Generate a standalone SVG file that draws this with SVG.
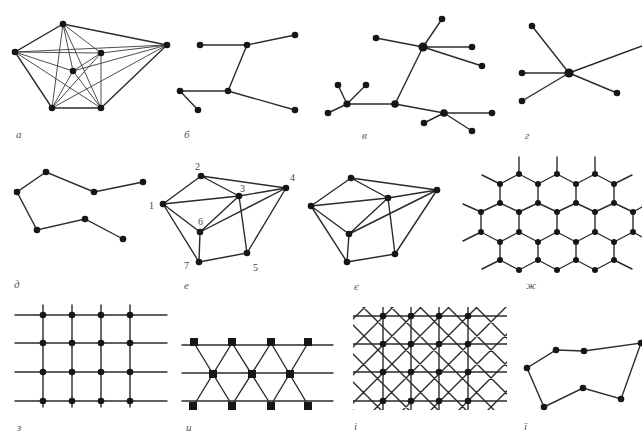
<svg xmlns="http://www.w3.org/2000/svg" width="642" height="434" viewBox="0 0 642 434">
<style>
.e{stroke:#2b2b2b;stroke-width:1.4;fill:none;stroke-linecap:round}
.t{stroke:#3a3a3a;stroke-width:0.9;fill:none}
.n{fill:#161616}
.lbl{font-family:"Liberation Serif","DejaVu Serif",serif;font-style:italic;font-size:11px;fill:#555}
.num{font-family:"Liberation Serif","DejaVu Serif",serif;font-size:10px;fill:#444}
</style>
<defs>
<clipPath id="clipI"><rect x="353" y="307" width="154" height="103"/></clipPath>
</defs>
<rect width="642" height="434" fill="#fff"/>

<!-- а: complete graph -->
<g id="fig-a">
<g id="fig-a-edges">
<path class="e" d="M63 24L15 52L52 108L101 108L167 45Z"/>
<path class="t" d="M63 24L101 53M63 24L73 71M63 24L52 108M63 24L101 108M15 52L167 45M15 52L101 53M15 52L73 71M15 52L101 108M167 45L101 53M167 45L73 71M167 45L52 108M101 53L73 71M101 53L52 108M101 53L101 108M73 71L52 108M73 71L101 108"/>
</g>
<g id="a1"><circle class="n" cx="63" cy="24" r="3.3"/></g>
<g id="a2"><circle class="n" cx="15" cy="52" r="3.3"/></g>
<g id="a3"><circle class="n" cx="167" cy="45" r="3.3"/></g>
<g id="a4"><circle class="n" cx="101" cy="53" r="3.3"/></g>
<g id="a5"><circle class="n" cx="73" cy="71" r="3.3"/></g>
<g id="a6"><circle class="n" cx="52" cy="108" r="3.3"/></g>
<g id="a7"><circle class="n" cx="101" cy="108" r="3.3"/></g>
<text class="lbl" x="16" y="138">а</text>
</g>

<!-- б: tree -->
<g id="fig-b">
<g id="fig-b-edges"><path class="e" d="M200 45L247 45L295 35M247 45L228 91L180 91L198 110M228 91L295 110"/></g>
<g id="b1"><circle class="n" cx="200" cy="45" r="3.3"/></g>
<g id="b2"><circle class="n" cx="247" cy="45" r="3.3"/></g>
<g id="b3"><circle class="n" cx="295" cy="35" r="3.3"/></g>
<g id="b4"><circle class="n" cx="228" cy="91" r="3.3"/></g>
<g id="b5"><circle class="n" cx="180" cy="91" r="3.3"/></g>
<g id="b6"><circle class="n" cx="198" cy="110" r="3.3"/></g>
<g id="b7"><circle class="n" cx="295" cy="110" r="3.3"/></g>
<text class="lbl" x="184" y="138">б</text>
</g>

<!-- в: tree -->
<g id="fig-v">
<g id="fig-v-edges"><path class="e" d="M423 47L442 19M423 47L376 38M423 47L472 47M423 47L482 66M423 47L395 104L347 104L338 85M347 104L366 85M347 104L328 113M395 104L444 113L492 113M444 113L424 123M444 113L472 131"/></g>
<g id="v1"><circle class="n" cx="423" cy="47" r="4.6"/></g>
<g id="v2"><circle class="n" cx="442" cy="19" r="3.3"/></g>
<g id="v3"><circle class="n" cx="376" cy="38" r="3.3"/></g>
<g id="v4"><circle class="n" cx="472" cy="47" r="3.3"/></g>
<g id="v5"><circle class="n" cx="482" cy="66" r="3.3"/></g>
<g id="v6"><circle class="n" cx="395" cy="104" r="3.8"/></g>
<g id="v7"><circle class="n" cx="347" cy="104" r="3.6"/></g>
<g id="v8"><circle class="n" cx="338" cy="85" r="3.3"/></g>
<g id="v9"><circle class="n" cx="366" cy="85" r="3.3"/></g>
<g id="v10"><circle class="n" cx="328" cy="113" r="3.3"/></g>
<g id="v11"><circle class="n" cx="444" cy="113" r="3.8"/></g>
<g id="v12"><circle class="n" cx="492" cy="113" r="3.3"/></g>
<g id="v13"><circle class="n" cx="424" cy="123" r="3.3"/></g>
<g id="v14"><circle class="n" cx="472" cy="131" r="3.3"/></g>
<text class="lbl" x="362" y="139">в</text>
</g>

<!-- г: star -->
<g id="fig-g">
<g id="fig-g-edges"><path class="e" d="M569 73L532 26M569 73L522 73M569 73L522 101M569 73L617 93M569 73L642 46"/></g>
<g id="g1"><circle class="n" cx="569" cy="73" r="4.6"/></g>
<g id="g2"><circle class="n" cx="532" cy="26" r="3.3"/></g>
<g id="g3"><circle class="n" cx="522" cy="73" r="3.3"/></g>
<g id="g4"><circle class="n" cx="522" cy="101" r="3.3"/></g>
<g id="g5"><circle class="n" cx="617" cy="93" r="3.3"/></g>
<text class="lbl" x="525" y="139">г</text>
</g>

<!-- д: path -->
<g id="fig-d">
<g id="fig-d-edges"><path class="e" d="M143 182L94 192L46 172L17 192L37 230L85 219L123 239"/></g>
<g id="d1"><circle class="n" cx="143" cy="182" r="3.3"/></g>
<g id="d2"><circle class="n" cx="94" cy="192" r="3.3"/></g>
<g id="d3"><circle class="n" cx="46" cy="172" r="3.3"/></g>
<g id="d4"><circle class="n" cx="17" cy="192" r="3.3"/></g>
<g id="d5"><circle class="n" cx="37" cy="230" r="3.3"/></g>
<g id="d6"><circle class="n" cx="85" cy="219" r="3.3"/></g>
<g id="d7"><circle class="n" cx="123" cy="239" r="3.3"/></g>
<text class="lbl" x="14" y="288">д</text>
</g>

<!-- е: numbered graph -->
<g id="fig-e">
<g id="fig-e-edges"><path class="e" d="M163 204L201 176M163 204L239 196M163 204L200 232M163 204L199 262M201 176L239 196M201 176L286 188M239 196L286 188M239 196L247 253M239 196L200 232M286 188L247 253M286 188L200 232M200 232L199 262M199 262L247 253"/></g>
<g id="e1"><circle class="n" cx="163" cy="204" r="3.3"/></g>
<g id="e2"><circle class="n" cx="201" cy="176" r="3.3"/></g>
<g id="e3"><circle class="n" cx="239" cy="196" r="3.3"/></g>
<g id="e4"><circle class="n" cx="286" cy="188" r="3.3"/></g>
<g id="e5"><circle class="n" cx="247" cy="253" r="3.3"/></g>
<g id="e6"><circle class="n" cx="200" cy="232" r="3.3"/></g>
<g id="e7"><circle class="n" cx="199" cy="262" r="3.3"/></g>
<text class="num" x="149" y="209">1</text>
<text class="num" x="195" y="170">2</text>
<text class="num" x="240" y="192">3</text>
<text class="num" x="290" y="181">4</text>
<text class="num" x="253" y="271">5</text>
<text class="num" x="198" y="225">6</text>
<text class="num" x="184" y="269">7</text>
<text class="lbl" x="184" y="289">е</text>
</g>

<!-- є: same graph -->
<g id="fig-ye">
<g id="fig-ye-edges"><path class="e" d="M311 206L351 178M311 206L388 198M311 206L349 234M311 206L347 262M351 178L388 198M351 178L437 190M388 198L437 190M388 198L395 254M388 198L349 234M437 190L395 254M437 190L349 234M349 234L347 262M347 262L395 254"/></g>
<g id="ye1"><circle class="n" cx="311" cy="206" r="3.3"/></g>
<g id="ye2"><circle class="n" cx="351" cy="178" r="3.3"/></g>
<g id="ye3"><circle class="n" cx="388" cy="198" r="3.3"/></g>
<g id="ye4"><circle class="n" cx="437" cy="190" r="3.3"/></g>
<g id="ye5"><circle class="n" cx="395" cy="254" r="3.3"/></g>
<g id="ye6"><circle class="n" cx="349" cy="234" r="3.3"/></g>
<g id="ye7"><circle class="n" cx="347" cy="262" r="3.3"/></g>
<text class="lbl" x="354" y="290">є</text>
</g>

<!-- ж: honeycomb -->
<g id="fig-zh">
<path class="e" d="M519 174L500 184M519 174L538 184M557 174L538 184M557 174L576 184M595 174L576 184M595 174L614 184M500 184V203M538 184V203M576 184V203M614 184V203M500 203L481 212M500 203L519 212M538 203L519 212M538 203L557 212M576 203L557 212M576 203L595 212M614 203L595 212M614 203L633 212M481 212V232M519 212V232M557 212V232M595 212V232M633 212V232M481 232L500 242M519 232L500 242M519 232L538 242M557 232L538 242M557 232L576 242M595 232L576 242M595 232L614 242M633 232L614 242M500 242V260M538 242V260M576 242V260M614 242V260M500 260L519 270M538 260L519 270M538 260L557 270M576 260L557 270M576 260L595 270M614 260L595 270M519 174V157M557 174V157M595 174V157M500 184L482 175M614 184L632 175M481 212L463 204M481 232L463 241M500 260L482 269M614 260L632 269M633 212L642 207M633 232L642 237"/>
<g class="n">
<circle cx="519" cy="174" r="3"/><circle cx="557" cy="174" r="3"/><circle cx="595" cy="174" r="3"/>
<circle cx="500" cy="184" r="3"/><circle cx="538" cy="184" r="3"/><circle cx="576" cy="184" r="3"/><circle cx="614" cy="184" r="3"/>
<circle cx="500" cy="203" r="3"/><circle cx="538" cy="203" r="3"/><circle cx="576" cy="203" r="3"/><circle cx="614" cy="203" r="3"/>
<circle cx="481" cy="212" r="3"/><circle cx="519" cy="212" r="3"/><circle cx="557" cy="212" r="3"/><circle cx="595" cy="212" r="3"/><circle cx="633" cy="212" r="3"/>
<circle cx="481" cy="232" r="3"/><circle cx="519" cy="232" r="3"/><circle cx="557" cy="232" r="3"/><circle cx="595" cy="232" r="3"/><circle cx="633" cy="232" r="3"/>
<circle cx="500" cy="242" r="3"/><circle cx="538" cy="242" r="3"/><circle cx="576" cy="242" r="3"/><circle cx="614" cy="242" r="3"/>
<circle cx="500" cy="260" r="3"/><circle cx="538" cy="260" r="3"/><circle cx="576" cy="260" r="3"/><circle cx="614" cy="260" r="3"/>
<circle cx="519" cy="270" r="3"/><circle cx="557" cy="270" r="3"/><circle cx="595" cy="270" r="3"/>
</g>
<text class="lbl" x="526" y="289">ж</text>
</g>

<!-- з: square grid -->
<g id="fig-z">
<path class="e" d="M15 315H167M15 343H167M15 372H167M15 401H167M43 305V407M72 305V407M101 305V407M130 305V407"/>
<g class="n">
<circle cx="43" cy="315" r="3.3"/><circle cx="72" cy="315" r="3.3"/><circle cx="101" cy="315" r="3.3"/><circle cx="130" cy="315" r="3.3"/>
<circle cx="43" cy="343" r="3.3"/><circle cx="72" cy="343" r="3.3"/><circle cx="101" cy="343" r="3.3"/><circle cx="130" cy="343" r="3.3"/>
<circle cx="43" cy="372" r="3.3"/><circle cx="72" cy="372" r="3.3"/><circle cx="101" cy="372" r="3.3"/><circle cx="130" cy="372" r="3.3"/>
<circle cx="43" cy="401" r="3.3"/><circle cx="72" cy="401" r="3.3"/><circle cx="101" cy="401" r="3.3"/><circle cx="130" cy="401" r="3.3"/>
</g>
<text class="lbl" x="17" y="431">з</text>
</g>

<!-- и: triangular lattice with squares -->
<g id="fig-i">
<path class="e" d="M182 345H333M182 373H333M182 401H333M194 343L232 405M232 343L194 405M232 343L271 405M271 343L232 405M271 343L308 405M308 343L271 405"/>
<g class="n">
<rect x="190" y="338" width="8" height="8"/><rect x="228" y="338" width="8" height="8"/><rect x="267" y="338" width="8" height="8"/><rect x="304" y="338" width="8" height="8"/>
<rect x="209" y="370" width="8" height="8"/><rect x="248" y="370" width="8" height="8"/><rect x="286" y="370" width="8" height="8"/>
<rect x="189" y="402" width="8" height="8"/><rect x="228" y="402" width="8" height="8"/><rect x="267" y="402" width="8" height="8"/><rect x="304" y="402" width="8" height="8"/>
</g>
<text class="lbl" x="186" y="431">и</text>
</g>

<!-- і: square grid with diagonals -->
<g id="fig-ii">
<g clip-path="url(#clipI)">
<path class="e" d="M353 316H507M353 344H507M353 372H507M353 401H507M383 307V410M411 307V410M439 307V410M468 307V410"/>
<path class="e" stroke-width="1.1" d="M176 290L316 430M204 290L344 430M233 290L373 430M261 290L401 430M289 290L429 430M318 290L458 430M346 290L486 430M374 290L514 430M403 290L543 430M431 290L571 430M459 290L599 430M382 290L242 430M410 290L270 430M438 290L298 430M466 290L326 430M494 290L354 430M523 290L383 430M551 290L411 430M579 290L439 430M608 290L468 430M636 290L496 430M664 290L524 430M693 290L553 430"/>
</g>
<g class="n">
<circle cx="383" cy="316" r="3.3"/><circle cx="411" cy="316" r="3.3"/><circle cx="439" cy="316" r="3.3"/><circle cx="468" cy="316" r="3.3"/>
<circle cx="383" cy="344" r="3.3"/><circle cx="411" cy="344" r="3.3"/><circle cx="439" cy="344" r="3.3"/><circle cx="468" cy="344" r="3.3"/>
<circle cx="383" cy="372" r="3.3"/><circle cx="411" cy="372" r="3.3"/><circle cx="439" cy="372" r="3.3"/><circle cx="468" cy="372" r="3.3"/>
<circle cx="383" cy="401" r="3.3"/><circle cx="411" cy="401" r="3.3"/><circle cx="439" cy="401" r="3.3"/><circle cx="468" cy="401" r="3.3"/>
</g>
<text class="lbl" x="354" y="430">і</text>
</g>

<!-- ї: cycle -->
<g id="fig-yi">
<g id="fig-yi-edges"><path class="e" d="M556 350L584 351L641 343L621 399L583 388L544 407L527 368Z"/></g>
<g id="yi1"><circle class="n" cx="556" cy="350" r="3.3"/></g>
<g id="yi2"><circle class="n" cx="584" cy="351" r="3.3"/></g>
<g id="yi3"><circle class="n" cx="641" cy="343" r="3.3"/></g>
<g id="yi4"><circle class="n" cx="621" cy="399" r="3.3"/></g>
<g id="yi5"><circle class="n" cx="583" cy="388" r="3.3"/></g>
<g id="yi6"><circle class="n" cx="544" cy="407" r="3.3"/></g>
<g id="yi7"><circle class="n" cx="527" cy="368" r="3.3"/></g>
<text class="lbl" x="524" y="430">ї</text>
</g>
</svg>
